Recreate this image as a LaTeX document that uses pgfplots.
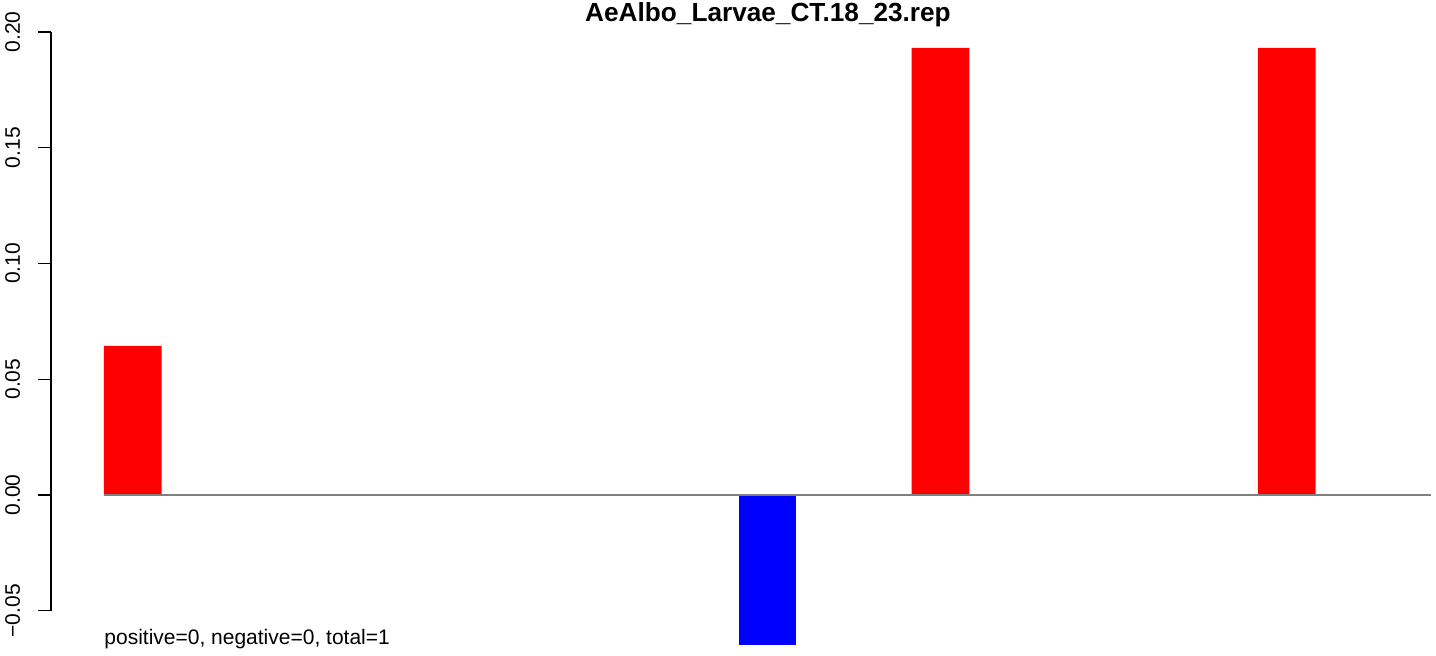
\documentclass[border=0pt]{standalone}
\usepackage{pgfplots}
\pgfplotsset{compat=1.18}
\usepackage{fontspec}
\setmainfont{Liberation Sans}
\begin{document}
\begin{tikzpicture}
% 1 px of the reference = 0.5pt
\useasboundingbox (-25.5pt,-22.625pt) rectangle (692.5pt,305.375pt);
\begin{axis}[
  at={(0,0)}, anchor=south west,
  scale only axis,
  width=692pt, height=289.375pt,
  xmin=-0.918, xmax=23.07,
  ymin=-0.05, ymax=0.20,
  clip=false,
  axis x line=none,
  axis y line*=left,
  xtick=\empty,
  ytick={-0.05,0,0.05,0.10,0.15,0.20},
  yticklabels={−0.05,0.00,0.05,0.10,0.15,0.20},
  tick align=outside,
  major tick length=6.5pt,
  every tick/.style={black, line width=0.65pt},
  axis line style={black, line width=0.65pt},
  yticklabel style={font=\fontsize{10.5}{12}\selectfont, xshift=-9pt, rotate=90, anchor=base},
]
\addplot[ybar, bar width=1, bar shift=0pt, fill=red, draw=none]
  coordinates {(0.5,0.0644) (14.5,0.1931) (20.5,0.1931)};
\addplot[ybar, bar width=1, bar shift=0pt, fill=blue, draw=none]
  coordinates {(11.5,-0.0648)};
\addplot[black!50, line width=0.55pt] coordinates {(0,0) (23,0)};
\end{axis}
\node[anchor=base, font=\bfseries\fontsize{13.1}{15}\selectfont, inner sep=0pt]
  at (358.5pt,294.4pt) {AeAlbo\_Larvae\_CT.18\_23.rep};
\node[anchor=base west, font=\fontsize{10.5}{12}\selectfont, inner sep=0pt]
  at (26.5pt,-17.1pt) {positive=0, negative=0, total=1};
\end{tikzpicture}
\end{document}
